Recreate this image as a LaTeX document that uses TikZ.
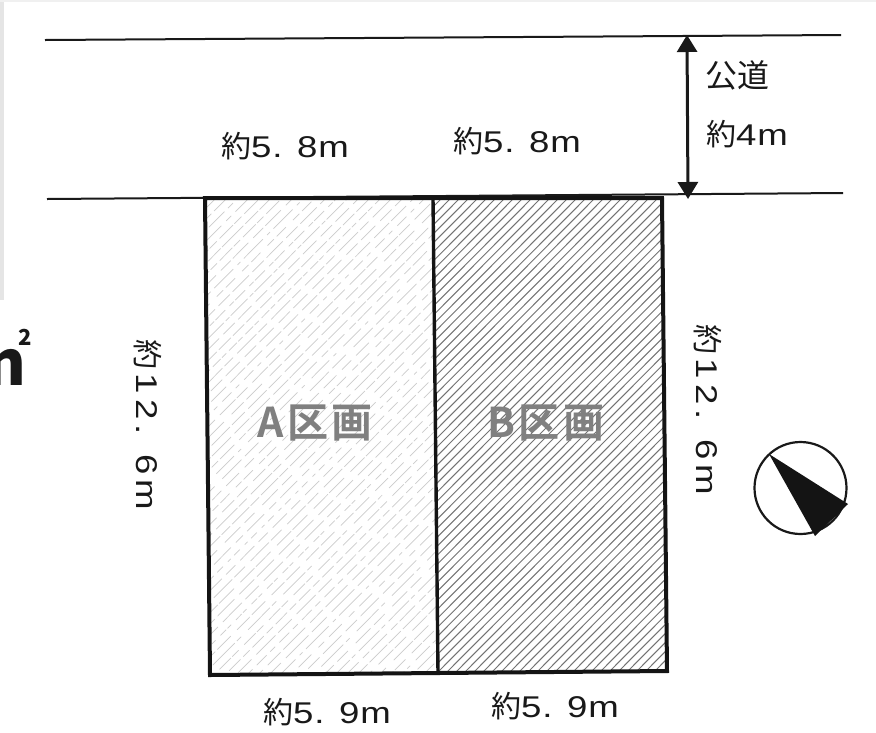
\documentclass[tikz,border=0pt]{standalone}
\usepackage{fontspec}
\setmainfont{Noto Sans CJK JP}
\newfontfamily\latf[FakeStretch=1.22,LetterSpace=3]{Liberation Sans}
\newfontfamily\latv[FakeStretch=1.22,LetterSpace=16]{Liberation Sans}
\newfontfamily\labf[LetterSpace=8]{Noto Sans CJK JP Bold}
\newcommand{\yak}[1]{約{\latf #1}}
\newcommand{\yav}[1]{約\hspace{4pt}{\latv #1}}
\usetikzlibrary{arrows.meta}
\definecolor{ink}{gray}{0.1}
\tikzset{
  x=1pt,y=-1pt,
  dim/.style={font=\fontsize{30}{32}\selectfont,text=ink,inner sep=0pt},
  plot/.style={font=\fontsize{41}{43}\selectfont\labf,text=black!50,inner sep=0pt},
  road/.style={draw=ink,line width=2pt},
  bound/.style={draw=black!92,line width=4pt,line join=miter},
  hatchB/.style={draw=black!55,line width=1pt},
  hatchA/.style={draw=black!20,line width=.7pt},
}
\begin{document}
\begin{tikzpicture}
\useasboundingbox (0,0) rectangle (876,732);
\fill[white] (0,0) rectangle (876,732);
% scanned edge
\fill[black!10] (0,0) rectangle (4,300);
\fill[black!6] (0,0) rectangle (876,2);
% plot corners
\coordinate (tl) at (205,198);
\coordinate (tm) at (433,198);
\coordinate (tr) at (662,198);
\coordinate (bl) at (210,675);
\coordinate (bm) at (438,673);
\coordinate (br) at (667,671);
% hatching
\begin{scope}
\clip (tl) -- (tm) -- (bm) -- (bl) -- cycle;
\pgfmathsetseed{7}
\foreach \k in {0,11,...,720}{
  \pgfmathsetmacro{\onA}{int(8+random(0,24))}
  \pgfmathsetmacro{\offA}{int(2+random(0,5))}
  \pgfmathsetmacro{\onB}{int(4+random(0,18))}
  \pgfmathsetmacro{\offB}{int(2+random(0,9))}
  \pgfmathsetmacro{\ph}{int(random(0,40))}
  \draw[hatchA,dash pattern=on \onA pt off \offA pt on \onB pt off \offB pt,dash phase=\ph pt] (205+\k-480,680) -- (205+\k,198);
}
\end{scope}
\begin{scope}
\clip (tm) -- (tr) -- (br) -- (bm) -- cycle;
\foreach \k in {0,9,...,720}{\draw[hatchB] (433+\k-480,680) -- (433+\k,198);}
\end{scope}
% plot labels
\node[plot] (a) at (315,423) {A区画};
\node[plot] (b) at (546,423) {B区画};
% road
\coordinate (r1a) at (45,40);
\coordinate (r1b) at (841,35);
\coordinate (r2a) at (47,199);
\coordinate (r2b) at (843,193);
\draw[road] (r1a) -- (r1b);
\draw[road] (r2a) -- (r2b);
% plot outline
\draw[bound] (tl) -- (tr) -- (br) -- (bl) -- cycle;
\draw[bound,line width=3.4pt] (tm) -- (bm);
% road width arrow
\coordinate (u) at (687,35);
\coordinate (d) at (688,199);
\draw[draw=ink,line width=3pt,{Stealth[length=17pt,width=20pt,inset=0pt]}-{Stealth[length=17pt,width=20pt,inset=0pt]}] (u) -- (d);
% dimension labels
\node[dim,font=\fontsize{32}{34}\selectfont] (t1) at (737,75) {公道};
\node[dim] (t2) at (747,134) {\yak{4m}};
\node[dim] (t3) at (285,146) {\yak{5. 8m}};
\node[dim] (t4) at (517,141) {\yak{5. 8m}};
\node[dim] (t5) at (327,712) {\yak{5. 9m}};
\node[dim] (t6) at (555,706) {\yak{5. 9m}};
\node[dim,rotate=-90] (t7) at (148,425) {\yav{12. 6m}};
\node[dim,rotate=-90] (t8) at (708,410) {\yav{12. 6m}};
% cut-off unit
\begin{scope}
\clip (0,320) rectangle (40,400);
\node[inner sep=0pt,font=\fontsize{62}{64}\selectfont\bfseries,text=ink] (u1) at (6,367) {n};
\node[inner sep=0pt,font=\fontsize{22}{24}\selectfont\bfseries,text=ink] (u2) at (25,337) {2};
\end{scope}
% north mark
\node[draw=ink,line width=2.2pt,circle,minimum size=92pt,inner sep=0pt] (comp) at (800.5,488) {};
\fill[black!92] (769,454) -- (848,504) -- (815,536) -- cycle;
\end{tikzpicture}
\end{document}
